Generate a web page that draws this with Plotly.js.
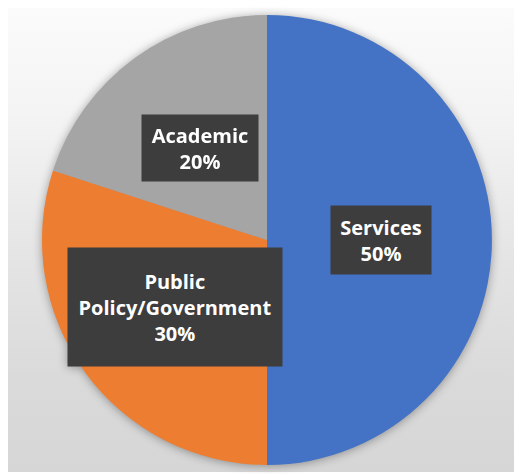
<!DOCTYPE html>
<html>
<head>
<meta charset="utf-8">
<script src="https://cdn.plot.ly/plotly-3.0.1.min.js"></script>
<style>
  html, body { margin: 0; padding: 0; background: #ffffff; }
  #frame {
    position: absolute; left: 8px; top: 8px; width: 506px; height: 464px;
    background: linear-gradient(to bottom, #fbfbfb 0%, #f3f3f3 25%, #e4e4e4 55%, #dadada 80%, #d6d6d6 100%);
  }
  #chart {
    position: absolute; left: 0; top: 0; width: 516px; height: 474px;
    filter: drop-shadow(0px 1px 5px rgba(0,0,0,0.35));
  }
</style>
</head>
<body>
<div id="frame"></div>
<div id="chart"></div>
<script>
const categories = ["Services", "Public<br>Policy/Government", "Academic"];
const values = [50, 30, 20];
const colors = ["#4472C4", "#ED7D31", "#A5A5A5"];

// label box sizes (styling only)
const boxStyle = [
  { width: 86, height: 54 },
  { width: 200, height: 104 },
  { width: 102, height: 52 }
];

const W = 516, H = 474;
const cx = 267, cyTop = 240, R = 225;
const dom = {
  x: [(cx - R) / W, (cx + R) / W],
  y: [(H - cyTop - R) / H, (H - cyTop + R) / H]
};

const total = values.reduce((a, b) => a + b, 0);
let cum = 0;
const annotations = values.map((v, i) => {
  const mid = (cum + v / 2) / total * 2 * Math.PI;
  cum += v;
  const rr = 0.505 * R;
  const px = cx + rr * Math.sin(mid);
  const py = cyTop - rr * Math.cos(mid);
  return {
    x: px / W, y: 1 - py / H, xref: "paper", yref: "paper",
    text: "<b>" + categories[i] + "<br>" + Math.round(v / total * 100) + "%</b>",
    showarrow: false,
    font: { family: "Open Sans, Noto Sans, sans-serif", size: 20, color: "#ffffff" },
    bgcolor: "#3d3d3d",
    borderpad: 7,
    width: boxStyle[i].width,
    height: boxStyle[i].height,
    align: "center",
    valign: "middle",
    xanchor: "center", yanchor: "middle"
  };
});

const trace = {
  type: "pie",
  labels: categories,
  values: values,
  sort: false,
  direction: "clockwise",
  rotation: 0,
  textinfo: "none",
  hoverinfo: "label+percent",
  marker: { colors: colors, line: { width: 0 } },
  domain: dom
};

Plotly.newPlot("chart", [trace], {
  width: W, height: H,
  margin: { l: 0, r: 0, t: 0, b: 0 },
  paper_bgcolor: "rgba(0,0,0,0)",
  plot_bgcolor: "rgba(0,0,0,0)",
  showlegend: false,
  annotations: annotations
}, { displayModeBar: false, staticPlot: true });
</script>
</body>
</html>
